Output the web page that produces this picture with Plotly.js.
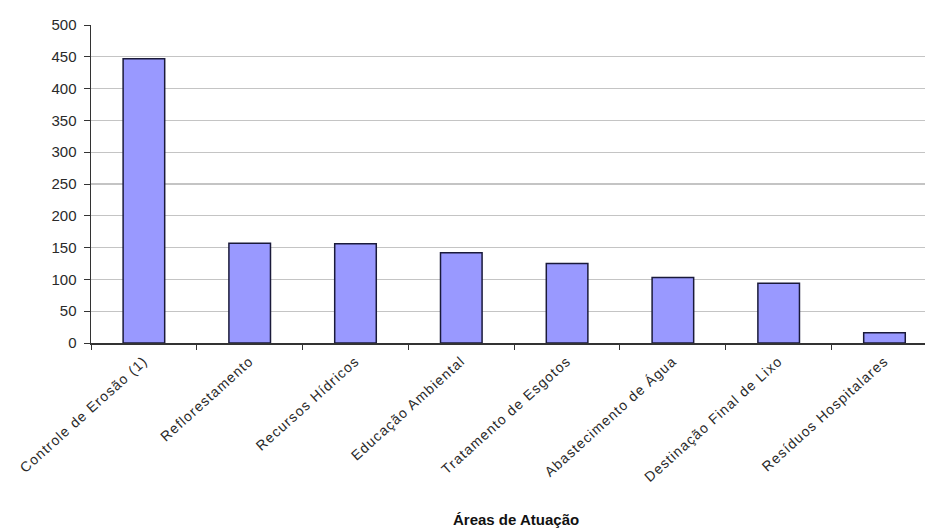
<!DOCTYPE html>
<html>
<head>
<meta charset="utf-8">
<script src="https://cdn.plot.ly/plotly-3.0.1.min.js"></script>
<style>
html,body{margin:0;padding:0;background:#fff;}
#chart{width:925px;height:529px;}
#chart .xtick text{letter-spacing:1.1px;}
</style>
</head>
<body>
<div id="chart"></div>
<script>
const categories = [
  "Controle de Erosão (1)",
  "Reflorestamento",
  "Recursos Hídricos",
  "Educação Ambiental",
  "Tratamento de Esgotos",
  "Abastecimento de Água",
  "Destinação Final de Lixo",
  "Resíduos Hospitalares"
];
const values = [447, 157, 156, 142, 125, 103, 94, 16];
const yTicks = [0, 50, 100, 150, 200, 250, 300, 350, 400, 450, 500];
const xTitle = "Áreas de Atuação";

const trace = {
  type: "bar",
  x: categories,
  y: values,
  width: 0.393,
  marker: {color: "#9999ff", line: {color: "#1a1a3a", width: 1.5}},
  hoverinfo: "x+y"
};

const layout = {
  width: 925,
  height: 529,
  margin: {l: 91, r: 0, t: 25, b: 185.5},
  paper_bgcolor: "#ffffff",
  plot_bgcolor: "#ffffff",
  showlegend: false,
  font: {family: "Liberation Sans, Arial, sans-serif", size: 12, color: "#222"},
  xaxis: {
    type: "category",
    range: [-0.5, 7.383],
    showgrid: false,
    showline: true,
    linecolor: "#333",
    linewidth: 1.5,
    ticks: "outside",
    tickson: "boundaries",
    ticklen: 5,
    tickcolor: "#333",
    tickangle: -42,
    ticklabelstandoff: 3,
    tickfont: {family: "Liberation Sans, Arial, sans-serif", size: 14, color: "#2a2a2a"},
    zeroline: false,
    fixedrange: true
  },
  yaxis: {
    range: [0, 500],
    tickvals: yTicks,
    ticktext: yTicks.map(String),
    showgrid: true,
    gridcolor: "#c4c4c4",
    gridwidth: 1.2,
    showline: true,
    linecolor: "#333",
    linewidth: 1.5,
    ticks: "outside",
    ticklen: 6,
    tickcolor: "#333",
    ticklabelstandoff: 4,
    tickfont: {family: "Liberation Sans, Arial, sans-serif", size: 15, color: "#2a2a2a"},
    zeroline: false,
    fixedrange: true
  },
  annotations: [{
    text: "<b>" + xTitle + "</b>",
    xref: "paper", yref: "paper",
    x: 0.51, y: -0.555,
    xanchor: "center", yanchor: "middle",
    showarrow: false,
    font: {family: "Liberation Sans, Arial, sans-serif", size: 15, color: "#111"}
  }]
};

Plotly.newPlot("chart", [trace], layout, {displayModeBar: false, staticPlot: true});
</script>
</body>
</html>
